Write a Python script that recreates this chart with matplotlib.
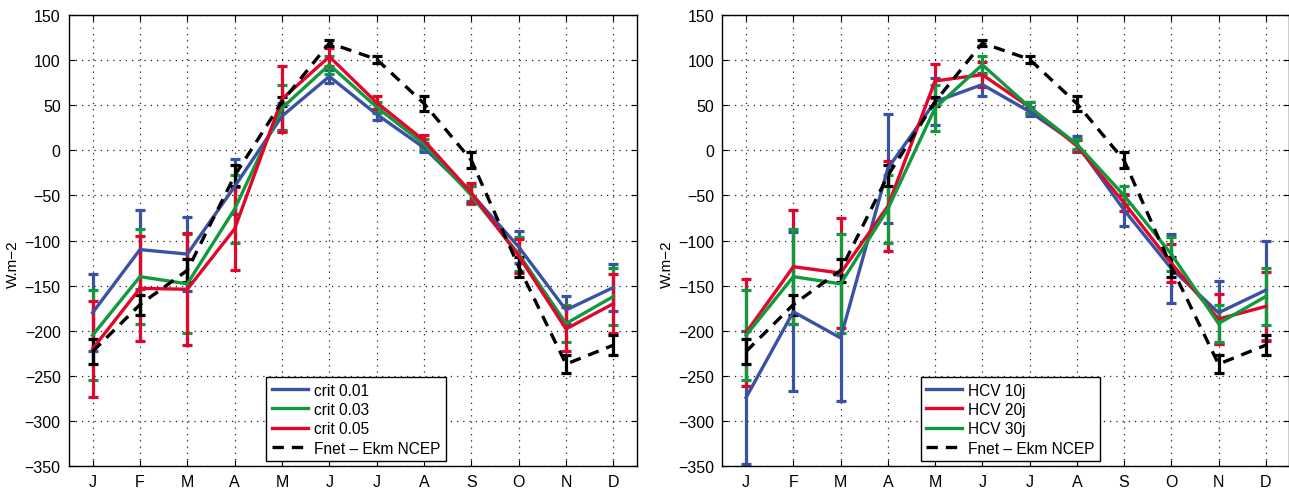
import numpy as np
import matplotlib
matplotlib.use('Agg')
import matplotlib.pyplot as plt
from matplotlib.lines import Line2D

plt.rcParams['font.family'] = ['Liberation Sans', 'DejaVu Sans']

months = ['J', 'F', 'M', 'A', 'M', 'J', 'J', 'A', 'S', 'O', 'N', 'D']

# Fnet - Ekm NCEP (same in both panels)
ncep = [-223, -171, -133, -28, 54, 119, 101, 52, -11, -129, -237, -216]
ncep_err = [14, 11, 13, 12, 5, 3, 4, 8, 9, 11, 10, 11]

# left panel
crit01 = [-180, -110, -115, -40, 38, 82, 40, 3, -48, -107, -177, -152]
crit01_err = [43, 44, 41, 31, 15, 7, 6, 5, 8, 18, 16, 26]
crit03 = [-205, -140, -148, -65, 47, 95, 48, 7, -50, -115, -192, -162]
crit03_err = [50, 53, 55, 38, 26, 10, 6, 6, 10, 19, 21, 32]
crit05 = [-220, -153, -154, -87, 57, 104, 53, 11, -47, -117, -198, -170]
crit05_err = [53, 58, 62, 46, 37, 10, 7, 6, 11, 19, 24, 33]

# right panel
hcv10 = [-274, -179, -208, -20, 54, 73, 43, 7, -66, -131, -180, -155]
hcv10_err = [74, 88, 70, 60, 26, 13, 5, 9, 18, 38, 35, 55]
hcv20 = [-202, -129, -136, -62, 77, 84, 48, 5, -58, -125, -187, -173]
hcv20_err = [59, 63, 61, 50, 19, 14, 6, 6, 9, 21, 28, 38]
hcv30 = crit03
hcv30_err = crit03_err

blue = '#3a52a3'
green = '#0f9b3c'
red = '#e2062c'
dash = (3.4, 2.4)

x = np.arange(1, 13)

fig = plt.figure(figsize=(12.89, 4.89), dpi=100)
ax1 = fig.add_axes([0.0535, 0.045, 0.4407, 0.922])
ax2 = fig.add_axes([0.5605, 0.045, 0.4398, 0.922])


def draw(ax, series, legend_x):
    handles = []
    for vals, err, col, lab, dashed in series:
        eb = ax.errorbar(x, vals, yerr=err, color=col, lw=2.4,
                         elinewidth=2.3, capsize=3.5, capthick=2.3)
        if dashed:
            eb.lines[0].set_dashes(dash)
        h = Line2D([], [], color=col, lw=2.4)
        if dashed:
            h.set_dashes(dash)
        handles.append((h, lab))
    ax.set_xlim(0.5, 12.5)
    ax.set_ylim(-350, 150)
    ax.set_xticks(x)
    ax.set_xticklabels(months)
    ax.set_yticks(np.arange(-350, 151, 50))
    ax.set_yticklabels([str(v).replace('-', '\u2212') for v in range(-350, 151, 50)])
    ax.tick_params(direction='in', top=True, right=True, labelsize=11.5, length=4, pad=6)
    ax.grid(True, ls=(0, (1, 4)), color='#222222', lw=0.9)
    ax.set_ylabel('W.m\u22122', fontsize=11)
    ax.yaxis.set_label_coords(-0.086, 0.45)
    for s in ax.spines.values():
        s.set_linewidth(1.0)
    leg = ax.legend([h for h, _ in handles], [l for _, l in handles],
                    loc='lower left', bbox_to_anchor=(legend_x, 0.004), fontsize=11.2,
                    frameon=True, fancybox=False, framealpha=1, edgecolor='black',
                    handlelength=2.3, borderaxespad=0.2, labelspacing=0.28,
                    borderpad=0.35, handletextpad=0.4)
    leg.get_frame().set_linewidth(1.0)


draw(ax1, [(crit01, crit01_err, blue, 'crit 0.01', False),
           (crit03, crit03_err, green, 'crit 0.03', False),
           (crit05, crit05_err, red, 'crit 0.05', False),
           (ncep, ncep_err, 'black', 'Fnet \u2013 Ekm NCEP', True)], 0.342)

draw(ax2, [(hcv10, hcv10_err, blue, 'HCV 10j', False),
           (hcv20, hcv20_err, red, 'HCV 20j', False),
           (hcv30, hcv30_err, green, 'HCV 30j', False),
           (ncep, ncep_err, 'black', 'Fnet \u2013 Ekm NCEP', True)], 0.344)

plt.savefig('out.png', dpi=100)
